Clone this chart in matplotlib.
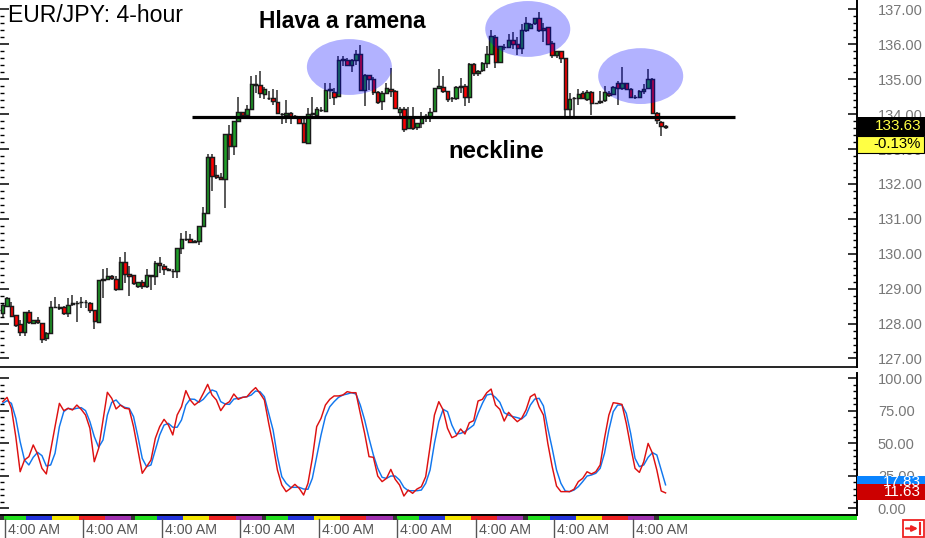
import numpy as np
import matplotlib
matplotlib.use("Agg")
import matplotlib.pyplot as plt
from matplotlib.patches import Ellipse, Rectangle

plt.rcParams["font.family"] = ["Liberation Sans", "DejaVu Sans"]

# EUR/JPY 4-hour candles
open_ = [128.30,128.51,128.51,128.24,127.98,127.76,128.33,128.03,128.10,128.03,
         127.60,127.72,128.48,128.47,128.47,128.30,128.56,128.60,128.62,128.62,
         128.60,128.38,128.05,129.24,129.28,129.35,129.27,128.99,129.76,129.43,
         129.38,129.07,129.19,129.07,129.39,129.37,129.73,129.66,129.57,129.52,
         129.50,130.16,130.42,130.42,130.36,130.38,130.80,131.16,132.78,132.26,
         132.20,132.13,133.44,133.10,133.81,134.07,133.98,134.16,134.85,134.84,
         134.57,134.46,134.45,134.36,134.00,133.97,134.03,133.95,133.89,133.76,
         133.18,134.00,133.98,134.13,134.10,134.70,134.64,134.52,135.56,135.55,
         135.40,135.55,135.73,134.69,135.11,135.00,134.64,134.38,134.62,134.73,
         134.66,134.07,134.16,133.60,133.88,133.64,133.76,133.92,133.95,134.10,
         134.76,134.79,134.65,134.46,134.47,134.79,134.81,134.49,135.45,135.17,
         135.26,135.47,135.73,136.20,135.50,135.93,135.92,136.11,136.00,135.90,
         136.40,136.47,136.60,136.75,136.46,136.49,136.05,135.70,135.80,135.61,
         134.16,134.46,134.45,134.60,134.43,134.64,134.32,134.36,134.40,134.62,
         134.59,134.88,134.76,134.88,134.73,134.50,134.49,134.66,134.76,135.01,
         134.03,133.78,133.65]
high = [128.57,128.77,128.62,128.25,128.11,128.33,128.40,128.10,128.20,128.03,
        127.75,128.65,128.75,128.55,128.50,128.72,128.83,128.65,128.75,128.68,
        128.62,128.40,129.24,129.55,129.60,129.40,129.35,129.90,130.05,129.65,
        129.40,129.20,129.25,129.55,129.40,129.80,129.90,129.70,129.60,129.55,
        130.16,130.60,130.65,130.56,130.40,130.80,131.35,132.85,132.85,132.53,
        132.32,133.44,133.70,133.81,134.50,134.07,134.26,135.09,135.11,135.25,
        134.78,134.66,134.71,134.69,134.03,134.40,134.07,133.98,133.95,133.90,
        134.19,134.50,134.20,134.20,134.90,134.90,134.76,135.66,135.68,135.60,
        135.58,135.85,135.99,135.15,135.11,135.05,134.65,134.65,134.90,135.33,
        134.68,134.20,134.20,134.20,134.20,133.76,134.05,134.00,134.19,134.76,
        135.28,135.09,134.65,134.50,134.80,135.04,134.85,135.47,135.47,135.26,
        135.50,135.94,136.40,136.27,135.95,136.00,136.30,136.34,136.20,136.59,
        136.78,136.62,136.75,136.94,136.62,136.50,136.10,135.82,135.82,135.62,
        134.60,134.50,134.73,134.65,134.70,134.66,134.33,134.66,134.82,134.65,
        134.80,134.95,135.36,134.90,134.75,134.55,134.70,134.85,135.30,135.03,
        134.05,133.80,133.68]
low = [128.19,128.50,128.20,127.90,127.63,127.63,128.00,127.98,128.00,127.45,
       127.50,127.70,128.45,128.40,128.25,128.20,128.50,128.05,128.45,128.45,
       128.30,127.85,128.05,128.73,129.25,129.25,128.92,128.98,129.15,128.78,
       129.10,129.03,129.00,129.03,128.95,129.10,129.45,129.40,129.50,129.32,
       129.30,130.00,130.38,130.30,130.30,130.25,130.80,131.15,131.80,132.15,
       132.10,131.32,132.70,132.84,133.77,133.95,133.90,134.16,134.62,134.45,
       134.43,134.40,134.26,134.03,133.73,133.74,133.73,133.90,133.75,133.17,
       133.18,133.90,133.95,134.05,134.09,134.43,134.26,134.52,135.37,135.40,
       135.20,135.40,134.69,134.24,134.70,134.55,134.30,134.12,134.62,134.50,
       134.14,133.90,133.50,133.57,133.55,133.55,133.60,133.78,133.78,134.10,
       134.72,134.60,134.35,134.35,134.41,134.60,134.22,134.31,135.10,135.10,
       135.20,135.33,135.70,135.33,135.48,135.85,135.90,135.87,135.70,135.73,
       136.35,136.45,136.55,136.35,136.08,135.98,135.60,135.60,135.47,133.95,
       133.95,133.95,134.26,134.42,134.38,133.97,134.30,134.30,134.36,134.50,
       134.57,134.26,134.70,134.68,134.47,134.42,134.45,134.57,134.72,134.00,
       133.72,133.36,133.58]
close = [128.52,128.74,128.23,127.95,127.76,128.33,128.05,128.10,128.05,127.57,
         127.72,128.48,128.47,128.45,128.30,128.54,128.58,128.60,128.62,128.62,
         128.38,128.08,129.24,129.27,129.35,129.30,128.99,129.76,129.43,129.36,
         129.16,129.19,129.07,129.39,129.37,129.73,129.67,129.57,129.54,129.50,
         130.16,130.42,130.43,130.34,130.34,130.80,131.16,132.78,132.24,132.20,
         132.13,133.44,133.10,133.81,134.07,133.98,134.16,134.85,134.83,134.60,
         134.73,134.45,134.37,134.03,133.99,134.03,133.96,133.94,133.76,133.19,
         134.00,134.02,134.14,134.11,134.69,134.72,134.50,135.56,135.58,135.41,
         135.54,135.73,134.69,135.11,135.00,134.64,134.36,134.62,134.76,134.66,
         134.19,134.14,133.57,133.88,133.60,133.76,133.88,133.94,134.07,134.76,
         134.82,134.66,134.43,134.45,134.78,134.80,134.49,135.45,135.17,135.24,
         135.47,135.73,136.23,135.50,135.94,135.92,136.13,136.00,135.90,136.42,
         136.60,136.58,136.75,136.42,136.41,136.02,135.70,135.80,135.61,134.16,
         134.43,134.45,134.59,134.45,134.63,134.31,134.31,134.38,134.63,134.54,
         134.78,134.76,134.88,134.73,134.49,134.49,134.66,134.73,135.01,134.03,
         133.84,133.67,133.63]

# stochastic oscillator
stoch_k = [81.8,85.1,76.7,54.9,27.9,36.9,39.5,48.5,41.5,30.5,
           26.2,44.6,62.6,80.5,74.9,76.7,75.4,79.2,75.9,71.5,
           61.3,35.6,45.9,67.7,89.0,84.4,76.2,79.2,76.7,76.2,
           62.6,44.6,26.7,31.8,36.9,53.6,62.6,68.2,63.8,56.2,
           71.5,77.9,90.3,83.1,79.2,81.8,88.2,95.1,86.9,83.1,
           74.9,79.7,81.8,87.7,83.6,85.1,85.6,89.5,92.6,88.2,
           83.1,65.1,48.5,29.2,17.7,12.6,15.1,18.2,15.1,10.0,
           19.0,38.2,62.6,69.0,79.2,83.6,86.2,86.2,
           86.9,89.5,88.7,88.7,72.8,57.4,39.5,39.0,24.6,20.3,
           22.8,29.7,22.1,17.7,9.2,13.8,11.3,14.6,16.4,24.1,
           47.2,71.5,81.8,75.4,61.3,54.1,55.6,60.8,56.9,65.6,
           67.2,82.3,83.6,88.7,91.5,79.2,75.9,66.9,73.6,69.7,
           66.4,69.0,75.4,85.6,87.7,77.9,71.5,49.7,31.8,16.9,
           12.6,12.6,12.6,14.4,20.3,22.8,27.9,26.2,27.9,33.1,
           53.6,71.5,81.0,80.5,79.7,65.1,47.2,30.5,27.4,35.6,
           49.7,42.1,29.2,13.1,11.63]
stoch_d = [80.5,82.6,80.5,69.0,51.0,36.9,33.1,39.0,42.8,40.3,
           32.3,33.1,42.1,62.6,74.1,76.7,75.9,76.7,77.2,74.9,
           66.4,54.9,46.7,52.3,71.5,81.3,83.1,79.2,77.4,76.7,
           70.3,54.9,38.2,31.8,33.1,44.6,56.2,63.8,65.1,62.1,
           62.1,67.7,79.2,83.8,83.6,81.3,83.6,87.7,90.8,89.5,
           81.8,80.0,79.7,83.8,84.4,85.1,85.6,86.9,90.0,89.5,
           85.6,72.8,60.0,39.5,24.1,19.0,15.9,15.9,15.9,14.6,
           14.4,22.8,39.5,56.2,70.3,77.9,81.8,85.1,
           86.9,87.7,88.7,87.7,79.2,67.7,53.6,40.8,30.5,23.6,
           22.8,24.6,24.6,21.5,15.9,13.3,13.3,13.3,13.8,19.0,
           29.2,49.7,66.4,75.9,74.1,63.8,56.9,57.4,58.7,61.3,
           63.8,72.8,80.5,86.9,87.7,85.1,81.3,73.3,71.5,70.3,
           69.5,68.5,71.5,79.2,83.8,84.4,78.5,61.3,45.9,29.2,
           19.0,13.1,12.6,13.8,16.4,20.3,24.6,25.4,26.7,30.5,
           42.1,60.0,74.1,79.2,79.2,72.8,57.4,38.2,31.8,33.1,
           39.0,42.6,40.8,29.2,17.83]

price_ticks = [127,128,129,130,131,132,133,134,135,136,137]
stoch_ticks = [0,25,50,75,100]
session_ticks = [0.5,18.5,36.5,54.5,72.5,90.5,108.5,126.5,144.5]
session_label = "4:00 AM"
day_names = ["sun","mon","tue","wed","thu","fri"]
day_lengths = [1,5,6,6,6,6]
day_colors = {"sun":"#333333","mon":"#22e01e","tue":"#2233dd","wed":"#f4e600",
              "thu":"#ee2222","fri":"#a030b0"}

W, H = 925, 538
fig = plt.figure(figsize=(W/100, H/100), dpi=100, facecolor="white")


def box(top, bottom, left=0, right=857):
    return [left/W, 1-bottom/H, (right-left)/W, (bottom-top)/H]


xlim = (-0.62, 195.9)
ax = fig.add_axes(box(0, 367))
ax2 = fig.add_axes(box(373, 515))
strip = fig.add_axes(box(515.5, 519.5))
over = fig.add_axes([0, 0, 1, 1], zorder=10)
over.set_xlim(0, W)
over.set_ylim(H, 0)
over.axis("off")

# velas
x = np.arange(len(close))
o = np.array(open_)
c = np.array(close)
up = c >= o
ax.vlines(x, low, high, color="#333333", lw=1.15, zorder=2)
ax.bar(x[up], (c-o)[up], bottom=o[up], width=0.8, color="#1e9e28",
       edgecolor="#1a1a1a", lw=1.05, zorder=3)
ax.bar(x[~up], (c-o)[~up], bottom=o[~up], width=0.8, color="#ff0000",
       edgecolor="#1a1a1a", lw=1.05, zorder=3)

# head and shoulders marks
for cx, cy in [(79.5, 135.35), (120.4, 136.44), (146.3, 135.09)]:
    ax.add_patch(Ellipse((cx, cy), 19.5, 1.6, facecolor="#0000ff", alpha=0.3,
                         edgecolor="none", zorder=4, clip_on=False))
ax.plot([43.4, 168], [133.92, 133.92], color="black", lw=2.3, zorder=5,
        solid_capstyle="butt")

ax.set_xlim(xlim)
ax.set_ylim(126.756, 137.27)
ax.set_xticks([])
ax.set_yticks(price_ticks)
ax.set_yticklabels([f"{t:.2f}" for t in price_ticks])
ax.set_yticks(np.arange(127, 137.01, 0.2), minor=True)

ax2.plot(x, stoch_d, color="#1177ee", lw=1.05)
ax2.plot(x, stoch_k, color="#dd1111", lw=1.05)
ax2.set_xlim(xlim)
ax2.set_ylim(-5.38, 103.85)
ax2.set_xticks([])
ax2.set_yticks(stoch_ticks)
ax2.set_yticklabels([f"{t:.2f}" for t in stoch_ticks])
ax2.set_yticks(np.arange(0, 100.01, 5), minor=True)

for a in (ax, ax2):
    a.yaxis.tick_right()
    a.tick_params(axis="y", which="major", direction="in", left=True, right=True,
                  length=6.5, width=1.1, pad=15, labelsize=10.5, labelcolor="#777777")
    a.tick_params(axis="y", which="minor", direction="in", left=True, right=True,
                  length=3.2, width=1.0)
    for s in ("left", "top"):
        a.spines[s].set_visible(False)
    a.spines["right"].set_linewidth(1.4)
ax.spines["bottom"].set_linewidth(1.2)
ax2.spines["bottom"].set_linewidth(1.4)

# barra de dias
strip.set_xlim(xlim)
strip.set_ylim(0, 1)
strip.axis("off")
start = -0.6
n = 0
while start < len(close):
    name = day_names[n % 6]
    strip.axvspan(start, start+day_lengths[n % 6], color=day_colors[name], lw=0)
    start += day_lengths[n % 6]
    n += 1
strip.axvspan(start, xlim[1], color=day_colors["mon"], lw=0)

for t in session_ticks:
    over.plot([2.7+4.36*t]*2, [519, 538], color="#555555", lw=1.0)
    over.text(2.7+4.36*t+3, 530.5, session_label, fontsize=10.3, color="#555555",
              ha="left", va="center")

# texts
over.text(8, 16, "EUR/JPY: 4-hour", fontsize=16.6, color="black", ha="left", va="center")
over.text(342, 22, "Hlava a ramena", fontsize=16.4, fontweight="bold", ha="center", va="center")
over.text(496.5, 152, "neckline", fontsize=17.3, fontweight="bold", ha="center", va="center")

# value flags on the right
over.add_patch(Rectangle((857, 117), 68, 19, facecolor="black", edgecolor="none"))
over.text(921, 126.5, "133.63", fontsize=11, color="#ffff44", ha="right", va="center")
over.add_patch(Rectangle((857, 136), 67, 16.5, facecolor="#ffff44", edgecolor="black", lw=0.8))
over.text(921, 144.5, "-0.13%", fontsize=10.8, color="black", ha="right", va="center")
over.add_patch(Rectangle((857, 476), 68, 9, facecolor="#0a84ff", edgecolor="none"))
over.text(921, 482, "17.83", fontsize=11, color="white", ha="right", va="center")
over.add_patch(Rectangle((857, 484), 68, 16, facecolor="#cc0000", edgecolor="none"))
over.text(921, 492.5, "11.63", fontsize=11, color="white", ha="right", va="center")

# little scroll button
over.add_patch(Rectangle((903, 520), 21, 17, facecolor="white", edgecolor="#ee2222", lw=1.3))
over.annotate("", xy=(918, 528.5), xytext=(906, 528.5),
              arrowprops=dict(arrowstyle="-|>", color="#ee2222", lw=1.6, mutation_scale=8,
                              shrinkA=0, shrinkB=0))
over.plot([920, 920], [523, 534], color="#ee2222", lw=1.5)

fig.savefig("out.png", dpi=100)
